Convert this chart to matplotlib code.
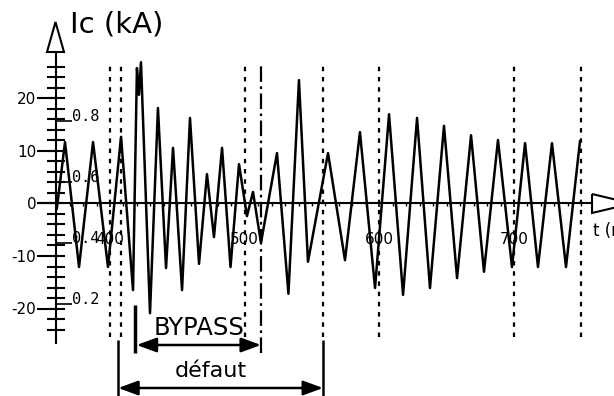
import matplotlib
matplotlib.use("Agg")
from matplotlib import pyplot as plt
from matplotlib.patches import Polygon
from matplotlib.ticker import FixedLocator

plt.rcParams['font.family'] = ['DejaVu Sans']
plt.rcParams['axes.unicode_minus'] = False

# waveform extrema: time (ms), current (kA)
t_ms = [360.5, 366.6, 377.0, 387.4, 398.5, 408.2, 417.1, 420.0, 421.5, 423.0,
        429.7, 435.6, 441.6, 446.8, 453.5, 459.4, 466.1, 472.0, 477.2, 483.2,
        489.5, 495.8, 501.7, 506.2, 512.1, 524.0, 532.5, 540.3, 547.0, 561.9,
        574.5, 585.6, 596.8, 607.2, 617.6, 628.0, 637.6, 648.0, 657.7, 668.1,
        677.7, 688.1, 698.5, 708.2, 717.8, 728.2, 738.6, 749.0]
i_ka = [-1.0, 11.7, -12.1, 11.7, -12.1, 12.7, -16.5, 25.8, 20.7, 26.9,
        -20.9, 18.2, -12.3, 10.6, -16.5, 16.3, -11.5, 5.6, -6.4, 10.6,
        -12.1, 7.5, -2.4, 2.2, -7.5, 9.6, -17.2, 23.5, -11.1, 9.6,
        -10.8, 13.6, -16.1, 17.0, -17.4, 16.3, -16.1, 14.8, -14.2, 13.0,
        -13.0, 12.1, -12.1, 11.5, -12.1, 11.5, -12.1, 11.9]

# axis ticks
x_ticks = [400, 500, 600, 700]
x_minor = list(range(370, 751, 10))
y_ticks = [-20, -10, 0, 10, 20]
y_minor = list(range(-24, 27, 2))
sec_ticks = [0.2, 0.4, 0.6, 0.8]
sec_labels = ["0.2", "0.4", "0.6", "0.8"]

# event markers (ms)
dotted_t = [400, 408, 500, 558.2, 600, 700, 750]
bypass_t = (418.6, 512.1)
defaut_t = (406.1, 558.2)

# pixel layout of the scan -> data units
W, H = 614, 396
PX_MS, X400 = 1.3467, 110.0
PX_KA, Y0 = 5.25, 203.5


def t_of(x):
    return 400 + (x - X400) / PX_MS


def ka_of(y):
    return (Y0 - y) / PX_KA


fig = plt.figure(figsize=(W / 100, H / 100), dpi=100)
ax = fig.add_axes([0, 0, 1, 1])
ax.set_xlim(t_of(0), t_of(W))
ax.set_ylim(ka_of(H), ka_of(0))

ax.plot(t_ms, i_ka, color='black', lw=1.8, solid_joinstyle='round')

# axes through the origin
for s in ['top', 'right']:
    ax.spines[s].set_visible(False)
ax.spines['left'].set_position(('data', t_of(56.5)))
ax.spines['left'].set_bounds(ka_of(343), ka_of(52))
ax.spines['bottom'].set_position(('data', 0))
ax.spines['bottom'].set_bounds(t_of(38), t_of(592))
for s in ['left', 'bottom']:
    ax.spines[s].set_linewidth(1.5)

ax.set_yticks(y_ticks)
ax.set_yticklabels([str(v) for v in y_ticks])
ax.yaxis.set_minor_locator(FixedLocator(y_minor))
ax.yaxis.remove_overlapping_locs = False
ax.tick_params(axis='y', which='major', direction='out', length=13.5,
               width=1.5, pad=1, labelsize=11)
ax.tick_params(axis='y', which='minor', direction='inout', length=13,
               width=1.5)

ax.set_xticks(x_ticks)
ax.set_xticklabels([str(v) for v in x_ticks])
ax.xaxis.set_minor_locator(FixedLocator(x_minor))
ax.tick_params(axis='x', which='major', direction='out', length=3,
               width=1.2, pad=17.5, labelsize=11)
ax.tick_params(axis='x', which='minor', direction='out', length=2.5,
               width=1.0)

# leftover second scale (s) on the same vertical axis
def to_s(k):
    return 0.8 + (k - 15.62) / 57.93


def from_s(s):
    return 15.62 + (s - 0.8) * 57.93


sec = ax.secondary_yaxis(56.5 / W, functions=(to_s, from_s))
sec.set_alignment('right')
sec.spines['right'].set_visible(False)
sec.spines['left'].set_visible(False)
sec.set_yticks(sec_ticks)
sec.set_yticklabels(sec_labels, va='baseline', fontfamily='DejaVu Sans Mono')
sec.tick_params(axis='y', direction='out', length=11, width=1.2, pad=0.5,
                labelsize=11)

# event lines
ax.vlines(dotted_t, ka_of(337), ka_of(62), colors='black',
          linestyles=(0, (2, 2.6)), lw=1.6)
ax.vlines([bypass_t[1]], ka_of(353), ka_of(62), colors='black',
          linestyles=(0, (7, 2, 1.2, 2)), lw=1.6)
ax.vlines([bypass_t[0]], ka_of(305), ka_of(353), colors='black', lw=2.5)
ax.vlines(list(defaut_t), ka_of(340), ka_of(396), colors='black', lw=1.8,
          clip_on=False)

arrow = dict(arrowstyle='<|-|>,head_length=0.6,head_width=0.22',
             color='black', lw=1.8, mutation_scale=20, shrinkA=0, shrinkB=0)
ax.annotate('', xy=(bypass_t[1], ka_of(345)),
            xytext=(bypass_t[0] + 1.2, ka_of(345)), arrowprops=arrow)
ax.annotate('', xy=(defaut_t[1], ka_of(388)),
            xytext=(defaut_t[0], ka_of(388)), arrowprops=arrow)

ax.text(t_of(199.5), ka_of(335), 'BYPASS', ha='center', va='baseline',
        fontsize=17.5)
ax.text(t_of(211), ka_of(377), 'défaut', ha='center', va='baseline',
        fontsize=16)
ax.text(t_of(70), ka_of(33), 'Ic (kA)', ha='left', va='baseline', fontsize=21)
ax.text(t_of(593), ka_of(236), 't (ms)', ha='left', va='baseline',
        fontsize=12, clip_on=False)

# hollow arrow heads on both axes
ax.add_patch(Polygon([(t_of(47), ka_of(52)), (t_of(55.5), ka_of(22)),
                      (t_of(64), ka_of(52))], closed=True, fill=False,
                     lw=1.5, clip_on=False))
ax.add_patch(Polygon([(t_of(592), ka_of(194)), (t_of(632), ka_of(203.5)),
                      (t_of(592), ka_of(213))], closed=True, fill=False,
                     lw=1.5, clip_on=False))

fig.savefig("out.png", dpi=100)
